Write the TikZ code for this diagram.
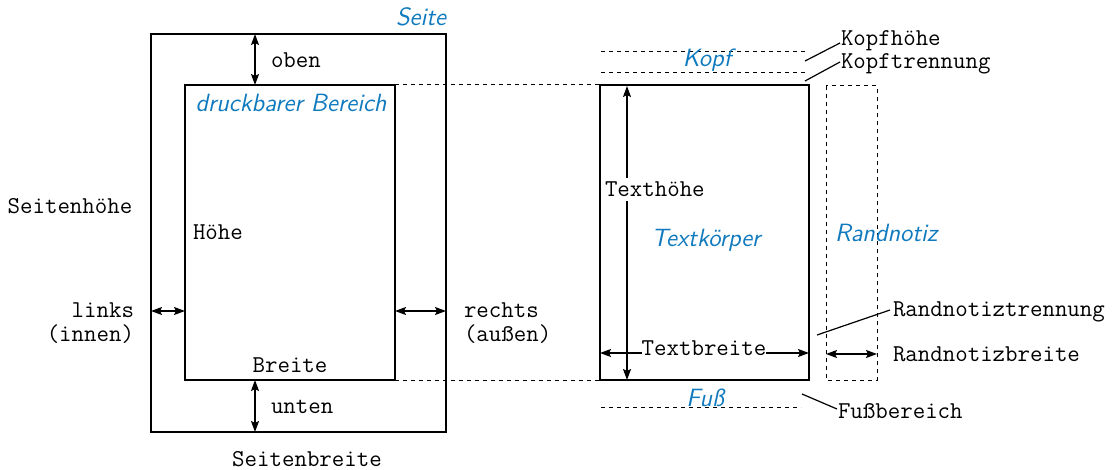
\documentclass[tikz,border=0pt]{standalone}
\usetikzlibrary{arrows.meta}
\definecolor{lblue}{RGB}{16,122,190}
\begin{document}
\begin{tikzpicture}[x=0.5pt,y=-0.5pt,
  every node/.style={inner sep=0pt,outer sep=0pt,font=\fontsize{12.1}{14}\selectfont},
  mono/.style={font=\fontsize{12.1}{14}\selectfont\ttfamily},
  area/.style={font=\fontsize{12.5}{14}\selectfont\sffamily\itshape,text=lblue},
  thinbox/.style={draw,line width=0.6pt},
  thickbox/.style={draw,line width=1.2pt},
  dimarrow/.style={line width=0.6pt,{Stealth[length=5.5pt,width=4pt,inset=1pt]}-{Stealth[length=5.5pt,width=4pt,inset=1pt]}},
  guide/.style={line width=0.5pt,dash pattern=on 2pt off 2pt},
  leader/.style={line width=0.6pt}]
\useasboundingbox (0,0) rectangle (1114,470);
% left: page
\coordinate (pTL) at (151,34); \coordinate (pBR) at (446,432);
\coordinate (iTL) at (185,85); \coordinate (iBR) at (395,380);
\coordinate (iTR) at (395,85); \coordinate (iBL) at (185,380);
\draw[thinbox] (pTL) rectangle (pBR);
\draw[thickbox] (iTL) rectangle (iBR);
\node[area,anchor=base east] (seite) at (446,26) {Seite};
\node[area,anchor=base] (druck) at (291,112) {druckbarer Bereich};
\coordinate (ot) at (255,34); \coordinate (ob) at (255,85);
\draw[dimarrow] (ot) -- (ob);
\node[mono,anchor=base west] (oben) at (271,68) {oben};
\coordinate (ut) at (255,380); \coordinate (ub) at (255,432);
\draw[dimarrow] (ut) -- (ub);
\node[mono,anchor=base west] (unten) at (271,413) {unten};
\coordinate (ll) at (151,311); \coordinate (lr) at (185,311);
\draw[dimarrow] (ll) -- (lr);
\coordinate (rl) at (395,311); \coordinate (rr) at (446,311);
\draw[dimarrow] (rl) -- (rr);
\node[mono,anchor=base east] (links) at (134,318) {links};
\node[mono,anchor=base east] (innen) at (134,342) {(innen)};
\node[mono,anchor=base west] (rechts) at (464,318) {rechts};
\node[mono,anchor=base west] (aussen) at (464,342) {(außen)};
\node[mono,anchor=base west] (hoehe) at (193,240) {Höhe};
\node[mono,anchor=base] (seitenhoehe) at (70,214) {Seitenhöhe};
\node[mono,anchor=base] (breite) at (290,372) {Breite};
\node[mono,anchor=base] (seitenbreite) at (307,466) {Seitenbreite};
% right: text body
\coordinate (tTL) at (600,85); \coordinate (tBR) at (809,380);
\coordinate (tBL) at (600,380);
\draw[guide] (iTR) -- (tTL);
\draw[guide] (iBR) -- (tBL);
\draw[thickbox] (tTL) rectangle (tBR);
\coordinate (k1l) at (601,51.5); \coordinate (k1r) at (805,51.5);
\coordinate (k2l) at (601,73); \coordinate (k2r) at (805,73);
\draw[guide] (k1l) -- (k1r);
\draw[guide] (k2l) -- (k2r);
\node[area,anchor=base] (kopf) at (707,67) {Kopf};
\node[mono,anchor=base west] (kopfhoehe) at (841,46) {Kopfhöhe};
\node[mono,anchor=base west] (kopftrenn) at (841,68.5) {Kopftrennung};
\coordinate (kh1) at (805,61); \coordinate (kh2) at (840,43);
\draw[leader] (kh1) -- (kh2);
\coordinate (kt1) at (805,81); \coordinate (kt2) at (840,62);
\draw[leader] (kt1) -- (kt2);
\coordinate (th1) at (627,86); \coordinate (th2) at (627,380);
\draw[dimarrow] (th1) -- (th2);
\node[mono,anchor=base west,fill=white,inner ysep=2pt] (texthoehe) at (605,197) {Texthöhe};
\node[area,anchor=base] (textkoerper) at (706,247) {Textkörper};
\coordinate (tw1) at (600,353); \coordinate (tw2) at (809,353);
\draw[dimarrow] (tw1) -- (tw2);
\node[mono,anchor=base,fill=white] (textbreite) at (704,356) {Textbreite};
% margin notes
\coordinate (mTL) at (826,86); \coordinate (mBR) at (877,380);
\draw[guide] (mTL) rectangle (mBR);
\node[area,anchor=base west] (randnotiz) at (835,242) {Randnotiz};
\coordinate (mr1) at (817,335); \coordinate (mr2) at (890,310);
\draw[leader] (mr1) -- (mr2);
\node[mono,anchor=base west] (randtrenn) at (893,316) {Randnotiztrennung};
\coordinate (mw1) at (826,354); \coordinate (mw2) at (877,354);
\draw[dimarrow] (mw1) -- (mw2);
\node[mono,anchor=base west] (randbreite) at (893,362) {Randnotizbreite};
% foot
\coordinate (f1) at (601,407); \coordinate (f2) at (801,407);
\draw[guide] (f1) -- (f2);
\node[area,anchor=base] (fuss) at (705,406) {Fuß};
\coordinate (fb1) at (802,394); \coordinate (fb2) at (837,409);
\draw[leader] (fb1) -- (fb2);
\node[mono,anchor=base west] (fussbereich) at (838,418) {Fußbereich};
\end{tikzpicture}
\end{document}
